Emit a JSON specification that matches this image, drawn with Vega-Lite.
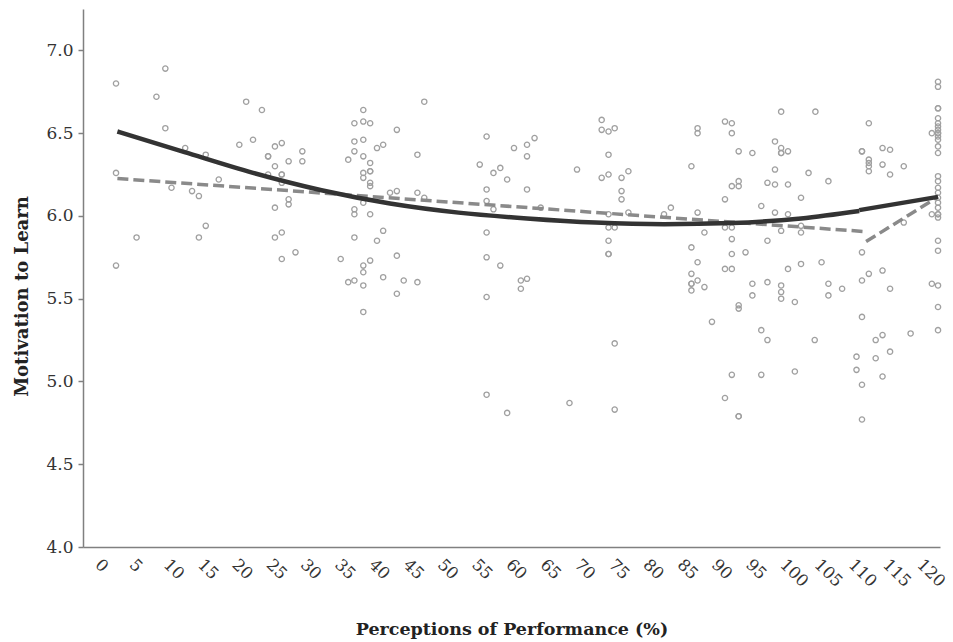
{
  "$schema": "https://vega.github.io/schema/vega-lite/v6.json",
  "width": 857,
  "height": 538,
  "autosize": "none",
  "padding": {"left": 83, "top": 9, "right": 13, "bottom": 95},
  "background": "white",
  "config": {"view": {"stroke": null}},
  "datasets": {
    "points": [
      {"x":0,"y":6.80},{"x":7.2,"y":6.89},{"x":5.9,"y":6.72},{"x":7.2,"y":6.53},{"x":10.1,"y":6.41},{"x":13.1,"y":6.37},{"x":0,"y":6.26},{"x":8.1,"y":6.17},{"x":11.1,"y":6.15},{"x":12.1,"y":6.12},{"x":15.0,"y":6.22},{"x":3.0,"y":5.87},{"x":12.1,"y":5.87},{"x":13.1,"y":5.94},{"x":0,"y":5.70},{"x":19.0,"y":6.69},{"x":21.3,"y":6.64},{"x":18.0,"y":6.43},{"x":20.0,"y":6.46},{"x":23.2,"y":6.42},{"x":24.2,"y":6.44},{"x":22.2,"y":6.36},{"x":22.2,"y":6.36},{"x":25.2,"y":6.33},{"x":27.2,"y":6.39},{"x":27.2,"y":6.33},{"x":23.2,"y":6.30},{"x":22.2,"y":6.25},{"x":24.2,"y":6.25},{"x":24.2,"y":6.25},{"x":24.2,"y":6.20},{"x":25.2,"y":6.10},{"x":25.2,"y":6.07},{"x":23.2,"y":6.05},{"x":24.2,"y":5.90},{"x":23.2,"y":5.87},{"x":24.2,"y":5.74},{"x":26.2,"y":5.78},
      {"x":33.9,"y":6.34},{"x":34.8,"y":6.56},{"x":36.1,"y":6.64},{"x":36.1,"y":6.57},{"x":37.1,"y":6.56},{"x":34.8,"y":6.45},{"x":36.1,"y":6.46},{"x":34.8,"y":6.39},{"x":36.1,"y":6.36},{"x":38.1,"y":6.41},{"x":39.0,"y":6.43},{"x":41.0,"y":6.52},{"x":45.0,"y":6.69},{"x":44.0,"y":6.37},{"x":37.1,"y":6.32},{"x":37.1,"y":6.27},{"x":37.1,"y":6.27},{"x":36.1,"y":6.26},{"x":36.1,"y":6.23},{"x":37.1,"y":6.20},{"x":37.1,"y":6.18},{"x":40.0,"y":6.14},{"x":41.0,"y":6.15},{"x":44.0,"y":6.14},{"x":45.0,"y":6.11},{"x":36.1,"y":6.08},{"x":34.8,"y":6.04},{"x":34.8,"y":6.01},{"x":37.1,"y":6.01},{"x":39.0,"y":5.91},{"x":34.8,"y":5.87},{"x":38.1,"y":5.85},{"x":32.8,"y":5.74},{"x":37.1,"y":5.73},{"x":36.1,"y":5.70},{"x":36.1,"y":5.66},{"x":41.0,"y":5.76},{"x":33.9,"y":5.60},{"x":34.8,"y":5.61},{"x":39.0,"y":5.63},{"x":42.0,"y":5.61},{"x":44.0,"y":5.60},{"x":36.1,"y":5.58},{"x":41.0,"y":5.53},{"x":36.1,"y":5.42},
      {"x":54.1,"y":6.48},{"x":53.1,"y":6.31},{"x":55.1,"y":6.26},{"x":56.1,"y":6.29},{"x":57.1,"y":6.22},{"x":58.1,"y":6.41},{"x":60.0,"y":6.43},{"x":61.1,"y":6.47},{"x":60.0,"y":6.36},{"x":54.1,"y":6.16},{"x":54.1,"y":6.09},{"x":55.1,"y":6.04},{"x":60.0,"y":6.16},{"x":54.1,"y":5.90},{"x":54.1,"y":5.75},{"x":56.1,"y":5.70},{"x":59.1,"y":5.61},{"x":60.0,"y":5.62},{"x":59.1,"y":5.56},{"x":54.1,"y":5.51},{"x":67.3,"y":6.28},{"x":62.0,"y":6.05},{"x":54.1,"y":4.92},{"x":57.1,"y":4.81},{"x":66.2,"y":4.87},
      {"x":70.9,"y":6.58},{"x":70.9,"y":6.52},{"x":71.9,"y":6.51},{"x":72.8,"y":6.53},{"x":71.9,"y":6.37},{"x":70.9,"y":6.23},{"x":71.9,"y":6.25},{"x":73.8,"y":6.23},{"x":74.8,"y":6.27},{"x":73.8,"y":6.15},{"x":73.8,"y":6.10},{"x":74.8,"y":6.02},{"x":71.9,"y":6.01},{"x":71.9,"y":5.93},{"x":72.8,"y":5.93},{"x":71.9,"y":5.85},{"x":71.9,"y":5.77},{"x":71.9,"y":5.77},{"x":72.8,"y":5.23},{"x":72.8,"y":4.83},{"x":81.0,"y":6.05},{"x":80.0,"y":6.01},
      {"x":84.0,"y":6.30},{"x":84.9,"y":6.53},{"x":84.9,"y":6.50},{"x":88.9,"y":6.57},{"x":89.9,"y":6.56},{"x":89.9,"y":6.50},{"x":90.9,"y":6.39},{"x":92.9,"y":6.38},{"x":96.2,"y":6.45},{"x":97.1,"y":6.41},{"x":97.1,"y":6.38},{"x":97.1,"y":6.38},{"x":98.1,"y":6.39},{"x":97.1,"y":6.63},{"x":102.1,"y":6.63},{"x":96.2,"y":6.28},{"x":95.1,"y":6.20},{"x":96.2,"y":6.19},{"x":98.1,"y":6.19},{"x":89.9,"y":6.18},{"x":90.9,"y":6.21},{"x":90.9,"y":6.18},{"x":88.9,"y":6.10},{"x":101.1,"y":6.26},{"x":104.0,"y":6.21},{"x":100.0,"y":6.11},{"x":94.2,"y":6.06},{"x":96.2,"y":6.02},{"x":98.1,"y":6.01},{"x":100.0,"y":5.94},{"x":100.0,"y":5.90},{"x":97.1,"y":5.91},{"x":84.9,"y":6.02},{"x":85.9,"y":5.90},{"x":88.9,"y":5.93},{"x":89.9,"y":5.93},{"x":89.9,"y":5.86},{"x":95.1,"y":5.85},{"x":84.0,"y":5.81},{"x":89.9,"y":5.77},{"x":91.9,"y":5.78},{"x":84.9,"y":5.72},{"x":88.9,"y":5.68},{"x":89.9,"y":5.68},{"x":84.0,"y":5.65},{"x":84.0,"y":5.59},{"x":84.0,"y":5.59},{"x":84.0,"y":5.55},{"x":84.9,"y":5.61},{"x":85.9,"y":5.57},{"x":90.9,"y":5.46},{"x":90.9,"y":5.44},{"x":92.9,"y":5.59},{"x":92.9,"y":5.52},{"x":95.1,"y":5.60},{"x":97.1,"y":5.58},{"x":97.1,"y":5.54},{"x":97.1,"y":5.50},{"x":99.1,"y":5.48},{"x":98.1,"y":5.68},{"x":100.0,"y":5.71},{"x":103.0,"y":5.72},{"x":104.0,"y":5.59},{"x":104.0,"y":5.52},{"x":106.0,"y":5.56},{"x":87.0,"y":5.36},{"x":94.2,"y":5.31},{"x":95.1,"y":5.25},{"x":102.0,"y":5.25},{"x":89.9,"y":5.04},{"x":94.2,"y":5.04},{"x":99.1,"y":5.06},{"x":88.9,"y":4.90},{"x":90.9,"y":4.79},{"x":90.9,"y":4.79},
      {"x":109.9,"y":6.56},{"x":108.9,"y":6.39},{"x":108.9,"y":6.39},{"x":109.9,"y":6.34},{"x":109.9,"y":6.32},{"x":109.9,"y":6.30},{"x":109.9,"y":6.27},{"x":111.9,"y":6.41},{"x":113.0,"y":6.40},{"x":111.9,"y":6.31},{"x":113.0,"y":6.25},{"x":115.0,"y":6.30},{"x":108.9,"y":5.78},{"x":115.0,"y":5.96},{"x":108.9,"y":5.61},{"x":109.9,"y":5.65},{"x":111.9,"y":5.67},{"x":113.0,"y":5.56},{"x":108.9,"y":5.39},{"x":110.9,"y":5.25},{"x":111.9,"y":5.28},{"x":116.0,"y":5.29},{"x":108.1,"y":5.15},{"x":108.1,"y":5.07},{"x":110.9,"y":5.14},{"x":113.0,"y":5.18},{"x":111.9,"y":5.03},{"x":108.9,"y":4.98},{"x":108.9,"y":4.77},
      {"x":120,"y":6.81},{"x":120,"y":6.78},{"x":120,"y":6.65},{"x":120,"y":6.65},{"x":120,"y":6.59},{"x":120,"y":6.56},{"x":120,"y":6.54},{"x":120,"y":6.52},{"x":120,"y":6.50},{"x":120,"y":6.50},{"x":120,"y":6.48},{"x":120,"y":6.46},{"x":120,"y":6.42},{"x":120,"y":6.38},{"x":120,"y":6.24},{"x":120,"y":6.21},{"x":120,"y":6.17},{"x":120,"y":6.14},{"x":120,"y":6.11},{"x":120,"y":6.08},{"x":120,"y":6.05},{"x":120,"y":6.01},{"x":120,"y":6.01},{"x":120,"y":5.99},{"x":120,"y":5.85},{"x":120,"y":5.79},{"x":120,"y":5.58},{"x":120,"y":5.45},{"x":120,"y":5.31},{"x":119.1,"y":6.50},{"x":119.1,"y":6.01},{"x":119.1,"y":5.59}
    ],
    "curve": [
      {"x":0.2,"y":6.51,"seg":"a"},{"x":10,"y":6.385,"seg":"a"},{"x":20,"y":6.26,"seg":"a"},{"x":30,"y":6.155,"seg":"a"},{"x":40,"y":6.075,"seg":"a"},{"x":50,"y":6.02,"seg":"a"},{"x":60,"y":5.985,"seg":"a"},{"x":70,"y":5.96,"seg":"a"},{"x":80,"y":5.95,"seg":"a"},{"x":90,"y":5.957,"seg":"a"},{"x":100,"y":5.985,"seg":"a"},{"x":108.5,"y":6.03,"seg":"a"},
      {"x":108.5,"y":6.035,"seg":"b"},{"x":120,"y":6.115,"seg":"b"}
    ],
    "dashed": [
      {"x":0.2,"y":6.226,"seg":"a"},{"x":109.5,"y":5.905,"seg":"a"},
      {"x":109.5,"y":5.845,"seg":"b"},{"x":120,"y":6.115,"seg":"b"}
    ]
  },
  "encoding": {
    "x": {
      "field": "x", "type": "quantitative",
      "scale": {"domain": [-4.82, 120.29], "nice": false, "zero": false},
      "axis": {
        "values": [0,5,10,15,20,25,30,35,40,45,50,55,60,65,70,75,80,85,90,95,100,105,110,115,120],
        "tickCount": 25,
        "grid": false, "ticks": false, "tickSize": 0,
        "labelAngle": 45, "labelAlign": "left", "labelBaseline": "top",
        "labelOffset": -13, "labelPadding": 9,
        "labelFont": "DejaVu Serif", "labelFontSize": 16.5, "labelColor": "#333333",
        "labelOverlap": false, "labelFlush": false, "labelBound": false,
        "domainColor": "#808080", "domainWidth": 1.5,
        "title": "Perceptions of Performance (%)",
        "titleFont": "DejaVu Serif", "titleFontSize": 17.5, "titleFontWeight": "bold", "titleColor": "#222222",
        "titleY": 87, "titleBaseline": "alphabetic"
      }
    },
    "y": {
      "field": "y", "type": "quantitative",
      "scale": {"domain": [4, 7.25], "nice": false, "zero": false},
      "axis": {
        "values": [4, 4.5, 5, 5.5, 6, 6.5, 7],
        "format": ".1f", "grid": false,
        "tickColor": "#808080", "tickSize": 5, "tickWidth": 1.5,
        "domainColor": "#808080", "domainWidth": 1.5,
        "labelFont": "DejaVu Serif", "labelFontSize": 17, "labelColor": "#333333", "labelPadding": 5,
        "title": "Motivation to Learn",
        "titleFont": "DejaVu Serif", "titleFontSize": 18, "titleFontWeight": "bold", "titleColor": "#222222",
        "titleAngle": -90, "titleX": -56, "titleY": 287, "titleBaseline": "alphabetic", "titleAlign": "center"
      }
    }
  },
  "layer": [
    {
      "data": {"name": "points"},
      "mark": {"type": "point", "shape": "circle", "filled": false, "stroke": "#a0a0a0", "strokeWidth": 1.3, "size": 28, "opacity": 1}
    },
    {
      "data": {"name": "dashed"},
      "mark": {"type": "line", "color": "#8a8a8a", "strokeWidth": 3.5, "strokeDash": [11, 5]},
      "encoding": {"detail": {"field": "seg", "type": "nominal"}}
    },
    {
      "data": {"name": "curve"},
      "mark": {"type": "line", "color": "#333333", "strokeWidth": 4.5, "interpolate": "monotone"},
      "encoding": {"detail": {"field": "seg", "type": "nominal"}}
    }
  ]
}
